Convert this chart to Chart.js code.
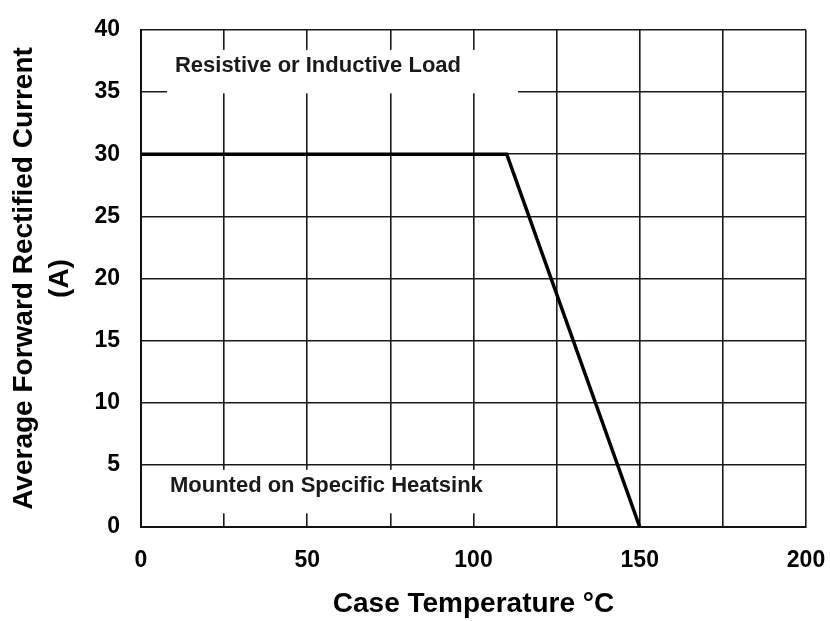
<!DOCTYPE html>
<html><head><meta charset="utf-8">
<script src="https://cdn.jsdelivr.net/npm/chart.js@4"></script>
<style>html,body{margin:0;padding:0;background:#fff;}</style>
</head><body>
<canvas id="c" width="830" height="621"></canvas>
<script>
// Data
const temperatureC = [0, 110, 150];
const currentA = [30, 30, 0];
const xTickLabels = [0, 50, 100, 150, 200];
const yTickLabels = [0, 5, 10, 15, 20, 25, 30, 35, 40];
const xTitle = 'Case Temperature °C';
const yTitle = ['Average Forward Rectified Current', '(A)'];
const noteTexts = ['Resistive or Inductive Load', 'Mounted on Specific Heatsink'];

const FONT = '"Liberation Sans", Arial, sans-serif';

const notePlugin = {
  id: 'notes',
  beforeDatasetsDraw(chart, args, opts) {
    const {ctx, scales: {x, y}} = chart;
    ctx.save();
    opts.items.forEach(it => {
      const left = x.getPixelForValue(it.x0), right = x.getPixelForValue(it.x1);
      const top = y.getPixelForValue(it.y1), bottom = y.getPixelForValue(it.y0);
      ctx.fillStyle = '#fff';
      ctx.fillRect(left, top, right - left, bottom - top);
      ctx.fillStyle = '#1a1a1a';
      ctx.font = 'bold 22px ' + FONT;
      ctx.textAlign = 'left';
      ctx.textBaseline = 'middle';
      ctx.fillText(it.text, x.getPixelForValue(it.tx), y.getPixelForValue(it.ty));
    });
    ctx.restore();
  }
};

function zeroPad(s) { s.paddingLeft = 0; s.paddingRight = 0; s.paddingTop = 0; s.paddingBottom = 0; }

new Chart(document.getElementById('c'), {
  type: 'scatter',
  data: {
    datasets: [{
      data: temperatureC.map((t, i) => ({x: t, y: currentA[i]})),
      showLine: true,
      borderColor: '#000',
      borderWidth: 3.5,
      pointRadius: 0,
      tension: 0
    }]
  },
  options: {
    responsive: false,
    animation: false,
    layout: {padding: {top: 30, right: 24, bottom: 0, left: 0}},
    plugins: {
      legend: {display: false},
      tooltip: {enabled: false},
      notes: {
        items: [
          {x0: 7.8, x1: 113.4, y0: 34.9, y1: 38.4, tx: 10.2, ty: 37.1, text: noteTexts[0]},
          {x0: 5.7, x1: 108, y0: 1.1, y1: 4.6, tx: 8.7, ty: 3.3, text: noteTexts[1]}
        ]
      }
    },
    scales: {
      x: {
        type: 'linear',
        min: 0, max: 200,
        afterFit(s) { s.height = 94; zeroPad(s); },
        grid: {color: '#1a1a1a', lineWidth: 1.6, drawTicks: false},
        border: {color: '#111', width: 2},
        ticks: {
          stepSize: 25,
          padding: 20,
          color: '#000',
          font: {family: FONT, size: 23, weight: 'bold'},
          maxRotation: 0,
          autoSkip: false,
          callback: v => xTickLabels.includes(v) ? String(v) : ''
        },
        title: {
          display: true,
          text: xTitle,
          color: '#000',
          font: {family: FONT, size: 28, weight: 'bold', lineHeight: 1.2},
          padding: {top: 0, bottom: 0}
        }
      },
      y: {
        type: 'linear',
        min: 0, max: 40,
        afterFit(s) { s.width = 141; zeroPad(s); },
        grid: {color: '#1a1a1a', lineWidth: 1.6, drawTicks: false},
        border: {color: '#111', width: 2},
        ticks: {
          stepSize: 5,
          padding: 21,
          color: '#000',
          font: {family: FONT, size: 23, weight: 'bold'},
          autoSkip: false,
          callback: v => yTickLabels.includes(v) ? String(v) : ''
        },
        title: {
          display: true,
          text: yTitle,
          color: '#000',
          font: {family: FONT, size: 28, weight: 'bold', lineHeight: 1.3},
          padding: {top: 6, bottom: 0}
        }
      }
    }
  },
  plugins: [notePlugin]
});
</script>
</body></html>
